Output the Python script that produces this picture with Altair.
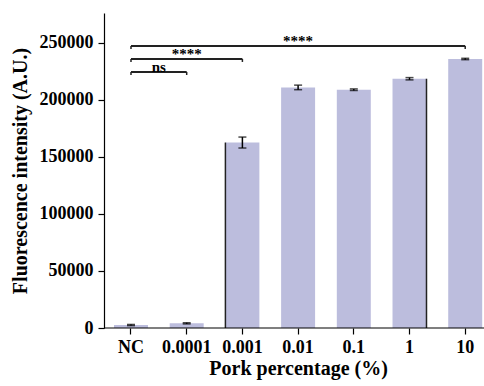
import altair as alt
import pandas as pd

categories = ["NC", "0.0001", "0.001", "0.01", "0.1", "1", "10"]
means = [2600, 4100, 162500, 210800, 208800, 218400, 235700]
errors = [500, 500, 4800, 2000, 700, 1000, 600]

br_start = ["NC", "NC", "NC"]
br_end = ["0.0001", "0.001", "10"]
br_y = [224300, 235700, 247000]
br_label = ["ns", "****", "****"]

edge_cats = ["0.001", "1"]
edge_side = [-1, 1]

FONT = "Liberation Serif"
W, H = 380, 315
PAD_INNER = 0.39
RANGE = [10, 378.2]

df = pd.DataFrame({"cat": categories, "mean": means, "err": errors})
df["lo"] = df["mean"] - df["err"]
df["hi"] = df["mean"] + df["err"]

idx = {c: i for i, c in enumerate(categories)}
br = pd.DataFrame({"c1": br_start, "c2": br_end, "y": br_y, "label": br_label})
br["ytick"] = br["y"] - 2600
br["mid"] = [(idx[a] + idx[b]) / 2 for a, b in zip(br["c1"], br["c2"])]
br_ends = pd.concat([
    pd.DataFrame({"c": br["c1"], "y": br["y"], "ytick": br["ytick"]}),
    pd.DataFrame({"c": br["c2"], "y": br["y"], "ytick": br["ytick"]}),
])

half_band = (1 - PAD_INNER) / 2
edges = pd.DataFrame({"cat": edge_cats, "side": edge_side})
edges = edges.merge(df[["cat", "mean"]], on="cat")
edges["pos"] = [idx[c] + s * half_band for c, s in zip(edges["cat"], edges["side"])]

xscale = alt.Scale(domain=categories, range=RANGE, paddingInner=PAD_INNER, paddingOuter=0)
yscale = alt.Scale(domain=[0, 276000], nice=False)
step = (RANGE[1] - RANGE[0]) / (len(categories) - PAD_INNER)
bw = step * (1 - PAD_INNER)
qscale = alt.Scale(domain=[0, len(categories) - 1],
                   range=[RANGE[0] + bw / 2, RANGE[0] + bw / 2 + (len(categories) - 1) * step])

x = alt.X("cat:N", scale=xscale, sort=categories,
          axis=alt.Axis(title="Pork percentage (%)", labelAngle=0, domain=False,
                        tickSize=6, tickColor="black", tickWidth=1.2,
                        labelPadding=4, titlePadding=2))
y = alt.Y("mean:Q", scale=yscale,
          axis=alt.Axis(title="Fluorescence intensity (A.U.)", values=[0, 50000, 100000, 150000, 200000, 250000],
                        format="d", grid=False, tickSize=6, tickColor="black", tickWidth=1.2,
                        domainColor="black", domainWidth=1.2, labelPadding=5, titlePadding=9))

xn = alt.X("cat:N", scale=xscale, sort=categories, axis=None)

bars = alt.Chart(df).mark_bar(color="#bcbddd", size=bw).encode(x=x, y=y)

err_rule = alt.Chart(df).mark_rule(color="black", strokeWidth=1.5).encode(
    x=xn, y=alt.Y("lo:Q", scale=yscale), y2="hi:Q")
cap_lo = alt.Chart(df).mark_tick(color="black", size=8, thickness=1.5, orient="horizontal").encode(
    x=xn, y=alt.Y("lo:Q", scale=yscale))
cap_hi = alt.Chart(df).mark_tick(color="black", size=8, thickness=1.5, orient="horizontal").encode(
    x=xn, y=alt.Y("hi:Q", scale=yscale))

edge_rules = alt.Chart(edges).mark_rule(color="#222222", strokeWidth=1.5).encode(
    x=alt.X("pos:Q", scale=qscale, axis=None),
    y=alt.Y("mean:Q", scale=yscale), y2=alt.datum(0))

br_lines = alt.Chart(br).mark_rule(color="#222222", strokeWidth=2).encode(
    x=alt.X("c1:N", scale=xscale, sort=categories, axis=None), x2="c2:N",
    y=alt.Y("y:Q", scale=yscale))
br_ticks = alt.Chart(br_ends).mark_rule(color="#222222", strokeWidth=1.5).encode(
    x=alt.X("c:N", scale=xscale, sort=categories, axis=None),
    y=alt.Y("y:Q", scale=yscale), y2="ytick:Q")

br_text = alt.Chart(br).mark_text(font=FONT, fontWeight="bold", fontSize=15, baseline="bottom", dy=3,
                                  color="black").encode(
    x=alt.X("mid:Q", scale=qscale, axis=None),
    y=alt.Y("y:Q", scale=yscale), text="label:N")

xdomain = alt.Chart(pd.DataFrame({"v": [0]})).mark_rule(color="black", strokeWidth=1.2).encode(
    x=alt.value(0), x2=alt.value(W), y=alt.Y("v:Q", scale=yscale))

chart = alt.layer(bars, edge_rules, err_rule, cap_lo, cap_hi, br_lines, br_ticks, br_text, xdomain).resolve_scale(
    x="independent"
).properties(
    width=W, height=H,
    padding={"left": 104, "top": 13, "right": 0, "bottom": 58},
    autosize=alt.AutoSizeParams(type="none"),
).configure_view(stroke=None).configure_axis(
    labelFont=FONT, titleFont=FONT, labelFontWeight="bold", titleFontWeight="bold",
    labelFontSize=18, titleFontSize=20, labelColor="black", titleColor="black"
)

chart.save("out.html", embed_options={"renderer": "svg", "actions": False})
